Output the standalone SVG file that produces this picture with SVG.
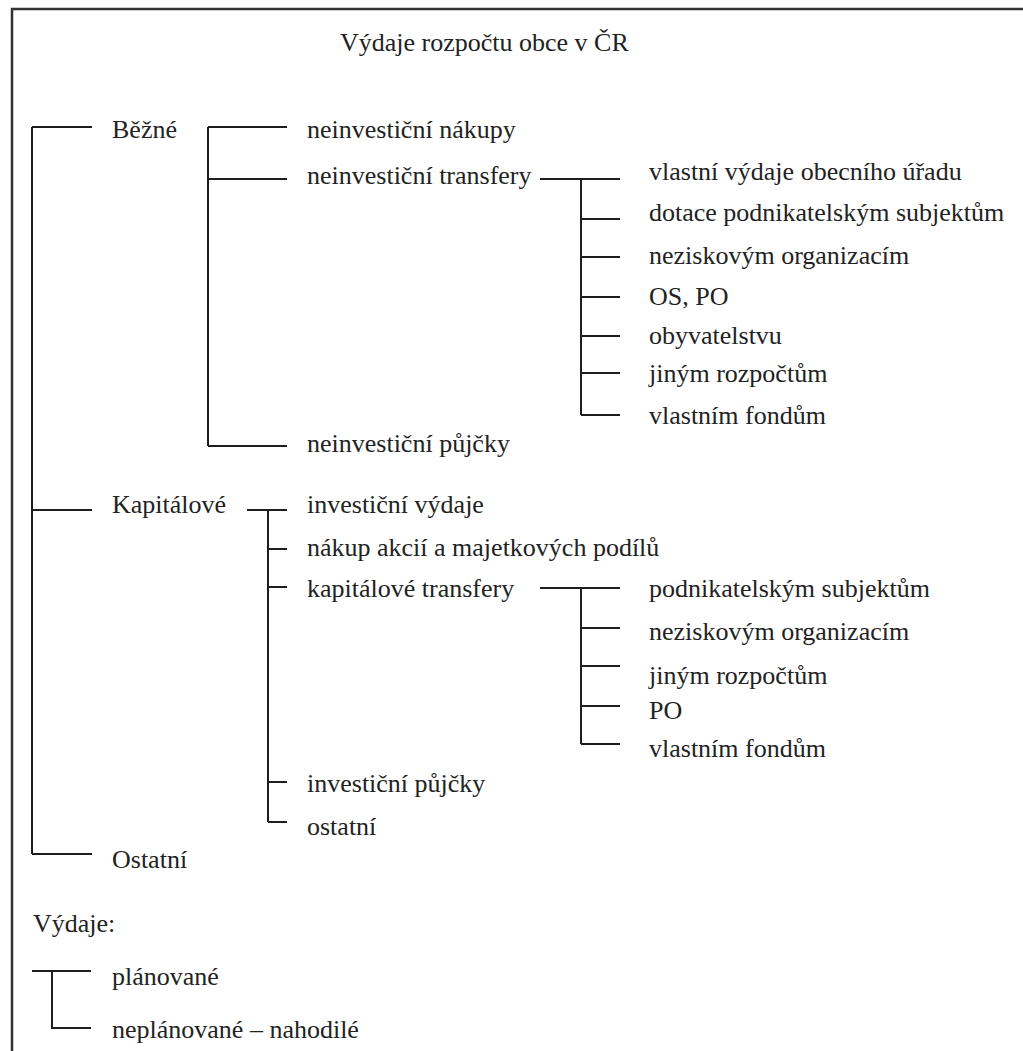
<svg xmlns="http://www.w3.org/2000/svg" width="1023" height="1051" viewBox="0 0 1023 1051">
<style>
.c{fill:none;stroke:#1e1e1e;stroke-width:2}
.b{fill:none;stroke:#333;stroke-width:2.5}
</style>
<rect width="1023" height="1051" fill="#fff"/>
<path class="b" d="M12,1051 V9 H1023"/>
<g id="connectors">
<path class="c" d="M32,127 V854 M32,127 H92 M32,510 H92 M32,854 H92"/>
<path class="c" d="M208,127 V446 M208,127 H287 M208,179 H287 M208,446 H287"/>
<path class="c" d="M540,179 H620 M581,179 V415 M581,219 H620 M581,257 H620 M581,297 H620 M581,336 H620 M581,373 H620 M581,415 H620"/>
<path class="c" d="M247,510 H287 M268,510 V822 M268,549 H287 M268,587 H287 M268,782 H287 M268,822 H287"/>
<path class="c" d="M540,588 H620 M581,588 V744 M581,628 H620 M581,666 H620 M581,706 H620 M581,744 H620"/>
<path class="c" d="M32,971 H91 M52,971 V1028 H91"/>
</g>
<g font-family="Liberation Serif, Times New Roman, serif" font-size="26" fill="#222">
<g id="title"><text x="340" y="51">Výdaje rozpočtu obce v ČR</text></g>
<g id="bezne"><text x="112" y="138">Běžné</text></g>
<g id="neinv-nakupy"><text x="307" y="138">neinvestiční nákupy</text></g>
<g id="neinv-transfery"><text x="307" y="184">neinvestiční transfery</text></g>
<g id="t1"><text x="649" y="180">vlastní výdaje obecního úřadu</text></g>
<g id="t2"><text x="649" y="221">dotace podnikatelským subjektům</text></g>
<g id="t3"><text x="649" y="264">neziskovým organizacím</text></g>
<g id="t4"><text x="649" y="305">OS, PO</text></g>
<g id="t5"><text x="649" y="344">obyvatelstvu</text></g>
<g id="t6"><text x="649" y="382">jiným rozpočtům</text></g>
<g id="t7"><text x="649" y="424">vlastním fondům</text></g>
<g id="neinv-pujcky"><text x="307" y="452">neinvestiční půjčky</text></g>
<g id="kapitalove"><text x="112" y="513">Kapitálové</text></g>
<g id="inv-vydaje"><text x="307" y="513">investiční výdaje</text></g>
<g id="nakup-akcii"><text x="307" y="556">nákup akcií a majetkových podílů</text></g>
<g id="kap-transfery"><text x="307" y="597">kapitálové transfery</text></g>
<g id="k1"><text x="649" y="597">podnikatelským subjektům</text></g>
<g id="k2"><text x="649" y="640">neziskovým organizacím</text></g>
<g id="k3"><text x="649" y="684">jiným rozpočtům</text></g>
<g id="k4"><text x="649" y="719">PO</text></g>
<g id="k5"><text x="649" y="757">vlastním fondům</text></g>
<g id="inv-pujcky"><text x="307" y="792">investiční půjčky</text></g>
<g id="ostatni-k"><text x="307" y="835">ostatní</text></g>
<g id="ostatni"><text x="112" y="868">Ostatní</text></g>
<g id="vydaje"><text x="33" y="932">Výdaje:</text></g>
<g id="planovane"><text x="112" y="985">plánované</text></g>
<g id="neplanovane"><text x="112" y="1038">neplánované – nahodilé</text></g>
</g>
</svg>
